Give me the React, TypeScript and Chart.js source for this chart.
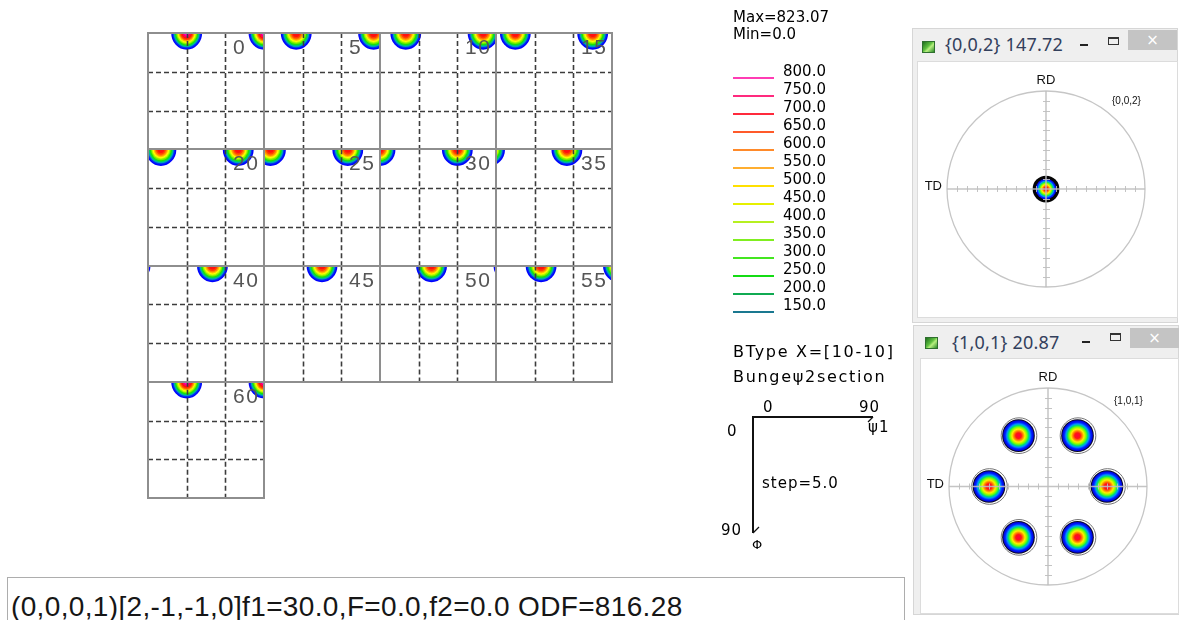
import React, { useEffect, useRef } from 'react';
import { Chart, registerables } from 'chart.js';

Chart.register(...registerables);

// ---------- ODF (Bunge phi2 sections) ----------
const sectionPhi2 = [0, 5, 10, 15, 20, 25, 30, 35, 40, 45, 50, 55, 60];
const sectionsPerRow = 4;
const sectionSpan = 90;
const dashedAt = [30, 60];

const blobSection = [0, 0, 5, 5, 10, 10, 15, 15, 20, 20, 25, 25, 30, 30, 35, 35, 40, 40, 45, 50, 50, 55, 55, 60, 60];
const blobPsi1 = [30, 90, 25, 85, 20, 80, 15, 75, 10, 70, 5, 65, 0, 60, -5, 55, -10, 50, 45, 40, 100, 35, 95, 30, 90];
const blobPhi = [0, 0, 0, 0, 0, 0, 0, 0, 0, 0, 0, 0, 0, 0, 0, 0, 0, 0, 0, 0, 0, 0, 0, 0, 0];
const blobPeak = [823, 823, 745, 745, 740, 740, 745, 745, 740, 740, 735, 735, 740, 740, 740, 740, 745, 745, 740, 740, 740, 745, 745, 823, 823];
const blobSpreadPsi1 = 12;
const blobSpreadPhi = 13;

const odfMax = 823.07;
const odfMin = 0.0;
const legendLevels = [800, 750, 700, 650, 600, 550, 500, 450, 400, 350, 300, 250, 200, 150];
const legendColors = ['#ff3cb4', '#ff2a7e', '#ff2a3c', '#ff5a2a', '#ff8a2a', '#ffae30', '#ffe000', '#e6f000', '#b6f020', '#80ee20', '#44e620', '#14dc14', '#10aa52', '#1a7890'];
const fillColors = ['#ff00d0', '#ff0060', '#ff1010', '#ff4000', '#ff8000', '#ffc000', '#ffff00', '#c0f800', '#70f000', '#20e000', '#00d060', '#00a0c0', '#0030f0', '#0000ff'];

const bType = 'BType X=[10-10]';
const sectionName = 'Bungeψ2section';
const stepText = 'step=5.0';

// ---------- Pole figures ----------
const pf002Title = '{0,0,2} 147.72';
const pf002Label = '{0,0,2}';
const pf002Alpha = [0];
const pf002Beta = [0];
const pf002Spread = 0.125;

const pf101Title = '{1,0,1} 20.87';
const pf101Label = '{1,0,1}';
const pf101Alpha = [61.6, 61.6, 61.6, 61.6, 61.6, 61.6];
const pf101Beta = [0, 60, 120, 180, 240, 300];
const pf101Spread = 0.165;

const infoText = '(0,0,0,1)[2,-1,-1,0]f1=30.0,F=0.0,f2=0.0 ODF=816.28';

// ---------- drawing helpers ----------
function drawOdfBlob(ctx: CanvasRenderingContext2D, cx: number, cy: number, rx: number, ry: number, peak: number) {
  const lo = legendLevels[legendLevels.length - 1];
  const denom = Math.log(peak / lo);
  for (let i = legendLevels.length - 1; i >= 0; i--) {
    const L = legendLevels[i];
    if (L >= peak) continue;
    const f = Math.pow(Math.log(peak / L) / denom, 0.45);
    ctx.fillStyle = fillColors[i];
    ctx.beginPath();
    ctx.ellipse(cx, cy, rx * f, ry * f, 0, 0, Math.PI * 2);
    ctx.fill();
  }
}

function line(ctx: CanvasRenderingContext2D, x0: number, y0: number, x1: number, y1: number) {
  ctx.beginPath();
  ctx.moveTo(x0, y0);
  ctx.lineTo(x1, y1);
  ctx.stroke();
}

const odfPlugin = {
  id: 'odfSections',
  afterDatasetsDraw(chart: any) {
    const ctx: CanvasRenderingContext2D = chart.ctx;
    const xs = chart.scales.x;
    const ys = chart.scales.y;
    const cell = (i: number) => {
      const col = i % sectionsPerRow;
      const row = Math.floor(i / sectionsPerRow);
      return {
        col,
        row,
        x0: xs.getPixelForValue(col * sectionSpan),
        x1: xs.getPixelForValue(col * sectionSpan + sectionSpan),
        y0: ys.getPixelForValue(row * sectionSpan),
        y1: ys.getPixelForValue(row * sectionSpan + sectionSpan),
      };
    };
    const rx = Math.abs(xs.getPixelForValue(blobSpreadPsi1) - xs.getPixelForValue(0));
    const ry = Math.abs(ys.getPixelForValue(blobSpreadPhi) - ys.getPixelForValue(0));
    const data = chart.data.datasets[0].data;

    data.forEach((p: any, k: number) => {
      const c = cell(sectionPhi2.indexOf(blobSection[k]));
      ctx.save();
      ctx.beginPath();
      ctx.rect(c.x0, c.y0, c.x1 - c.x0, c.y1 - c.y0);
      ctx.clip();
      drawOdfBlob(ctx, xs.getPixelForValue(p.x), ys.getPixelForValue(p.y), rx, ry, blobPeak[k]);
      ctx.restore();
    });

    ctx.save();
    ctx.strokeStyle = '#3c3c3c';
    ctx.lineWidth = 1.6;
    ctx.setLineDash([5, 3]);
    sectionPhi2.forEach((_s, i) => {
      const c = cell(i);
      dashedAt.forEach((g) => {
        const gx = Math.round(xs.getPixelForValue(c.col * sectionSpan + g)) + 0.5;
        const gy = Math.round(ys.getPixelForValue(c.row * sectionSpan + g)) + 0.5;
        line(ctx, gx, c.y0, gx, c.y1);
        line(ctx, c.x0, gy, c.x1, gy);
      });
    });
    ctx.restore();

    ctx.save();
    ctx.strokeStyle = '#8e8e8e';
    ctx.lineWidth = 2;
    sectionPhi2.forEach((_s, i) => {
      const c = cell(i);
      ctx.strokeRect(Math.round(c.x0), Math.round(c.y0), Math.round(c.x1) - Math.round(c.x0), Math.round(c.y1) - Math.round(c.y0));
    });
    ctx.restore();

    ctx.save();
    ctx.font = '21px "Liberation Sans", Arial, sans-serif';
    (ctx as any).letterSpacing = '1.5px';
    ctx.fillStyle = '#555555';
    ctx.textBaseline = 'alphabetic';
    sectionPhi2.forEach((s, i) => {
      const c = cell(i);
      ctx.fillText(String(s), c.x0 + 85, c.y0 + 21);
    });
    ctx.restore();

    // legend
    ctx.save();
    ctx.fillStyle = '#000000';
    ctx.font = '15px "DejaVu Sans", sans-serif';
    ctx.fillText('Max=' + odfMax.toFixed(2), 733, 22);
    ctx.fillText('Min=' + odfMin.toFixed(1), 733, 39);
    legendLevels.forEach((lv, i) => {
      const y = 78 + 18 * i;
      ctx.strokeStyle = legendColors[i];
      ctx.lineWidth = 2;
      line(ctx, 733, y, 774, y);
      ctx.fillText(lv.toFixed(1), 783, y - 2);
    });
    ctx.restore();

    // section diagram
    ctx.save();
    ctx.fillStyle = '#000000';
    ctx.font = '16px "DejaVu Sans", sans-serif';
    (ctx as any).letterSpacing = '1.7px';
    ctx.fillText(bType, 733, 357);
    ctx.fillText(sectionName, 733, 382);
    ctx.font = '15px "DejaVu Sans", sans-serif';
    (ctx as any).letterSpacing = '1px';
    ctx.fillText('0', 763, 412);
    ctx.fillText('90', 859, 412);
    ctx.fillText('0', 727, 436);
    ctx.fillText('ψ1', 868, 432);
    ctx.fillText(stepText, 762, 488);
    ctx.fillText('90', 721, 535);
    ctx.font = '13px "DejaVu Sans", sans-serif';
    ctx.fillText('Φ', 752, 549);
    ctx.strokeStyle = '#111111';
    ctx.lineWidth = 2;
    ctx.beginPath();
    ctx.moveTo(873, 417);
    ctx.lineTo(753, 417);
    ctx.lineTo(753, 533);
    ctx.stroke();
    ctx.lineWidth = 1.2;
    line(ctx, 873, 417, 868, 422);
    line(ctx, 753, 533, 759, 527);
    ctx.restore();
  },
};

function odfConfig(): any {
  const points = blobSection.map((s, k) => {
    const i = sectionPhi2.indexOf(s);
    const col = i % sectionsPerRow;
    const row = Math.floor(i / sectionsPerRow);
    return { x: col * sectionSpan + blobPsi1[k], y: row * sectionSpan + blobPhi[k] };
  });
  const rows = Math.ceil(sectionPhi2.length / sectionsPerRow);
  return {
    type: 'scatter',
    data: { datasets: [{ data: points, pointRadius: 0, pointHoverRadius: 0, pointHitRadius: 0 }] },
    options: {
      animation: false,
      responsive: false,
      events: [],
      layout: { padding: { left: 148, top: 33, right: 905 - 612, bottom: 575 - 498 } },
      scales: {
        x: { type: 'linear', min: 0, max: sectionsPerRow * sectionSpan, display: false },
        y: { type: 'linear', min: 0, max: rows * sectionSpan, reverse: true, display: false },
      },
      plugins: { legend: { display: false }, tooltip: { enabled: false } },
    },
    plugins: [odfPlugin],
  };
}

function drawPoleBlob(ctx: CanvasRenderingContext2D, cx: number, cy: number, r: number, thickOutline: boolean) {
  ctx.save();
  if (thickOutline) {
    ctx.fillStyle = '#050505';
    ctx.beginPath();
    ctx.arc(cx, cy, r + 1, 0, Math.PI * 2);
    ctx.fill();
  } else {
    ctx.strokeStyle = '#777777';
    ctx.lineWidth = 1;
    ctx.beginPath();
    ctx.arc(cx + 0.5, cy, r + 1.5, 0, Math.PI * 2);
    ctx.stroke();
    ctx.fillStyle = '#0a0a20';
    ctx.beginPath();
    ctx.arc(cx, cy, r, 0, Math.PI * 2);
    ctx.fill();
  }
  const ri = thickOutline ? r - 2 : r - 1;
  const g = ctx.createRadialGradient(cx, cy, 0, cx, cy, ri);
  g.addColorStop(0, '#ff0040');
  g.addColorStop(0.18, '#ff1414');
  g.addColorStop(0.3, '#ff8000');
  g.addColorStop(0.42, '#ffee00');
  g.addColorStop(0.55, '#80ff00');
  g.addColorStop(0.66, '#00e070');
  g.addColorStop(0.76, '#0090ff');
  g.addColorStop(0.87, '#0020ff');
  g.addColorStop(1, '#0000d8');
  ctx.fillStyle = g;
  ctx.beginPath();
  ctx.arc(cx, cy, ri, 0, Math.PI * 2);
  ctx.fill();
  ctx.restore();
}

function pfPlugin(label: string, spread: number, thickOutline: boolean, labelDy: number) {
  return {
    id: 'poleFigure',
    afterDatasetsDraw(chart: any) {
      const ctx: CanvasRenderingContext2D = chart.ctx;
      const xs = chart.scales.x;
      const ys = chart.scales.y;
      const cx = xs.getPixelForValue(0);
      const cy = ys.getPixelForValue(0);
      const rX = xs.getPixelForValue(1) - cx;
      const rY = cy - ys.getPixelForValue(1);
      const br = xs.getPixelForValue(spread) - cx;

      ctx.save();
      ctx.strokeStyle = '#c6c6c6';
      ctx.lineWidth = 1.3;
      ctx.beginPath();
      ctx.ellipse(cx, cy, rX, rY, 0, 0, Math.PI * 2);
      ctx.stroke();

      chart.data.datasets[0].data.forEach((p: any) => {
        drawPoleBlob(ctx, xs.getPixelForValue(p.x), ys.getPixelForValue(p.y), br, thickOutline);
      });

      ctx.strokeStyle = 'rgba(190,190,190,0.9)';
      ctx.lineWidth = 1.5;
      line(ctx, cx - rX, cy, cx + rX, cy);
      line(ctx, cx, cy - rY, cx, cy + rY);
      ctx.lineWidth = 1;
      for (let k = 1; k <= 9; k++) {
        const v = k / 10;
        [v, -v].forEach((t) => {
          const tx = Math.round(xs.getPixelForValue(t)) + 0.5;
          const ty = Math.round(ys.getPixelForValue(t)) + 0.5;
          line(ctx, tx, cy - 3, tx, cy + 3);
          line(ctx, cx - 3, ty, cx + 4, ty);
        });
      }

      ctx.fillStyle = '#111111';
      ctx.font = '13px "Liberation Sans", Arial, sans-serif';
      ctx.textAlign = 'center';
      ctx.fillText('RD', cx, cy - rY - 7);
      ctx.textAlign = 'right';
      ctx.fillText('TD', cx - rX - 5, cy + 1);
      ctx.textAlign = 'left';
      ctx.font = '10px "Liberation Sans", Arial, sans-serif';
      ctx.fillText(label, cx + 66, cy + labelDy);
      ctx.restore();
    },
  };
}

function pfConfig(alpha: number[], beta: number[], label: string, spread: number, thick: boolean, pad: any, labelDy: number): any {
  const points = alpha.map((a, i) => {
    const rho = Math.tan(((a / 2) * Math.PI) / 180);
    const b = (beta[i] * Math.PI) / 180;
    return { x: rho * Math.cos(b), y: rho * Math.sin(b) };
  });
  return {
    type: 'scatter',
    data: { datasets: [{ data: points, pointRadius: 0, pointHoverRadius: 0, pointHitRadius: 0 }] },
    options: {
      animation: false,
      responsive: false,
      events: [],
      layout: { padding: pad },
      scales: {
        x: { type: 'linear', min: -1, max: 1, display: false },
        y: { type: 'linear', min: -1, max: 1, display: false },
      },
      plugins: { legend: { display: false }, tooltip: { enabled: false } },
    },
    plugins: [pfPlugin(label, spread, thick, labelDy)],
  };
}

const abs = (l: number, t: number, w: number, h: number): React.CSSProperties => ({
  position: 'absolute',
  left: l,
  top: t,
  width: w,
  height: h,
  boxSizing: 'border-box',
});

function WindowChrome(props: {
  frame: number[];
  icon: number[];
  title: string;
  titleTop: number;
  titleLeft: number;
  min: number[];
  max: number[];
  close: number[];
  inner: number[];
}) {
  const { frame, icon, title, titleTop, titleLeft, min, max, close, inner } = props;
  return (
    <>
      <div style={{ ...abs(frame[0], frame[1], frame[2], frame[3]), background: '#efefef', border: '1px solid #d6d6d6' }} />
      <div
        style={{
          ...abs(icon[0], icon[1], 13, 12),
          background: 'linear-gradient(135deg, #1e6e1e 0%, #5fc040 45%, #b8f080 60%, #2a8a2a 100%)',
          border: '1px solid #2f6f2f',
        }}
      />
      <div
        style={{
          position: 'absolute',
          left: titleLeft,
          top: titleTop,
          font: '18px "Noto Sans", "Open Sans", sans-serif',
          lineHeight: '18px',
          color: '#33405c',
          whiteSpace: 'nowrap',
          letterSpacing: '0.2px',
        }}
      >
        {title}
      </div>
      <div style={{ ...abs(min[0], min[1], 8, 2), background: '#222' }} />
      <div style={{ ...abs(max[0], max[1], 11, 8), border: '1px solid #333', borderTop: '2px solid #333' }} />
      <div
        style={{
          ...abs(close[0], close[1], close[2], close[3]),
          background: '#c4c4c4',
          color: '#ffffff',
          font: '15px "DejaVu Sans", sans-serif',
          lineHeight: close[3] + 'px',
          textAlign: 'center',
        }}
      >
        ×
      </div>
      <div style={{ ...abs(inner[0] - 1, inner[1] - 1, inner[2] + 2, inner[3] + 2), background: '#ffffff', border: '1px solid #dcdcdc' }} />
    </>
  );
}

export default function App() {
  const odfRef = useRef<HTMLCanvasElement>(null);
  const pf1Ref = useRef<HTMLCanvasElement>(null);
  const pf2Ref = useRef<HTMLCanvasElement>(null);

  useEffect(() => {
    const charts: Chart[] = [];
    if (odfRef.current) charts.push(new Chart(odfRef.current, odfConfig()));
    if (pf1Ref.current)
      charts.push(
        new Chart(
          pf1Ref.current,
          pfConfig(pf002Alpha, pf002Beta, pf002Label, pf002Spread, true, { left: 29, right: 32, top: 29, bottom: 30 }, -85)
        )
      );
    if (pf2Ref.current)
      charts.push(
        new Chart(
          pf2Ref.current,
          pfConfig(pf101Alpha, pf101Beta, pf101Label, pf101Spread, false, { left: 28, right: 31, top: 29, bottom: 28 }, -83)
        )
      );
    return () => charts.forEach((c) => c.destroy());
  }, []);

  return (
    <div style={{ position: 'fixed', left: 0, top: 0, width: 1183, height: 620, overflow: 'hidden', background: '#ffffff' }}>
      <canvas ref={odfRef} width={905} height={575} style={{ position: 'absolute', left: 0, top: 0, width: 905, height: 575 }} />

      <div style={{ ...abs(7, 577, 898, 60), border: '1px solid #adadad', background: '#ffffff' }} />
      <div
        style={{
          position: 'absolute',
          left: 11,
          top: 593,
          font: '28px "Liberation Sans", Arial, sans-serif',
          lineHeight: '28px',
          color: '#161616',
          whiteSpace: 'nowrap',
          letterSpacing: '0.35px',
        }}
      >
        {infoText}
      </div>

      <WindowChrome
        frame={[912, 28, 266, 295]}
        icon={[922, 41]}
        title={pf002Title}
        titleLeft={945}
        titleTop={35}
        min={[1080, 44]}
        max={[1108, 37]}
        close={[1128, 30, 49, 20]}
        inner={[918, 62, 259, 255]}
      />
      <canvas ref={pf1Ref} width={259} height={255} style={{ position: 'absolute', left: 918, top: 62, width: 259, height: 255 }} />

      <WindowChrome
        frame={[913, 325, 266, 290]}
        icon={[925, 337]}
        title={pf101Title}
        titleLeft={952}
        titleTop={333}
        min={[1082, 341]}
        max={[1110, 333]}
        close={[1130, 328, 49, 20]}
        inner={[921, 359, 257, 254]}
      />
      <canvas ref={pf2Ref} width={257} height={254} style={{ position: 'absolute', left: 921, top: 359, width: 257, height: 254 }} />
    </div>
  );
}
